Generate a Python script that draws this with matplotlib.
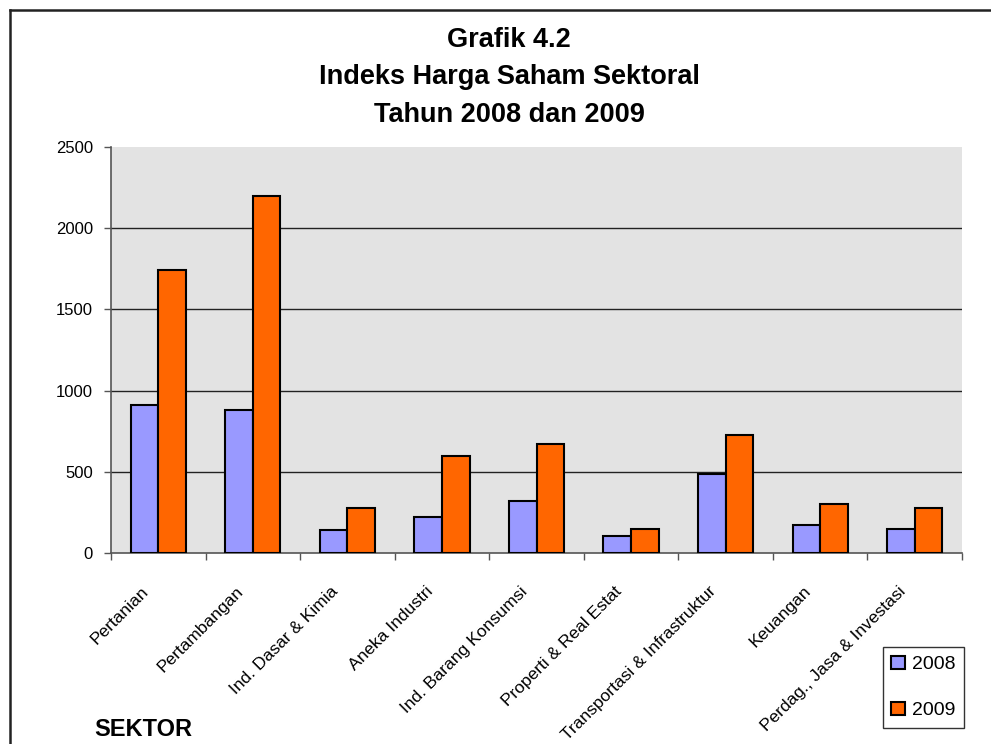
import matplotlib
matplotlib.use("Agg")
import matplotlib.pyplot as plt
import matplotlib.transforms as mtransforms
import numpy as np
from matplotlib.lines import Line2D

categories = ["Pertanian", "Pertambangan", "Ind. Dasar & Kimia", "Aneka Industri",
              "Ind. Barang Konsumsi", "Properti & Real Estat", "Transportasi & Infrastruktur",
              "Keuangan", "Perdag., Jasa & Investasi"]
values_2008 = [913, 878, 139, 222, 322, 102, 484, 172, 148]
values_2009 = [1745, 2200, 277, 599, 669, 148, 728, 299, 275]
series_labels = ["2008", "2009"]
yticks = [0, 500, 1000, 1500, 2000, 2500]
title_lines = ["Grafik 4.2", "Indeks Harga Saham Sektoral", "Tahun 2008 dan 2009"]

plt.rcParams['font.family'] = ['Liberation Sans', 'DejaVu Sans']

W, H = 991, 744
fig = plt.figure(figsize=(W / 100, H / 100), dpi=100)
fig.patch.set_facecolor('white')

ax = fig.add_axes([111 / W, 1 - 553 / H, 851 / W, 406 / H])
ax.set_facecolor('#e3e3e3')

n = len(categories)
centers = np.arange(n) + 0.5
bw = 0.292
ax.bar(centers - bw / 2, values_2008, width=bw, color='#9999FF', edgecolor='black',
       linewidth=1.5, label=series_labels[0], zorder=3)
ax.bar(centers + bw / 2, values_2009, width=bw, color='#FF6600', edgecolor='black',
       linewidth=1.5, label=series_labels[1], zorder=3)

ax.set_xlim(0, n)
ax.set_ylim(0, 2500)
ax.set_yticks(yticks)
ax.set_yticklabels([str(v) for v in yticks], fontsize=12)
for v in yticks[1:-1]:
    ax.axhline(v, color='#222222', linewidth=1.0, zorder=1)

ax.set_xticks(np.arange(n + 1))
ax.set_xticklabels([''] * (n + 1))
ax.set_xticks(centers, minor=True)
ax.set_xticklabels(categories, minor=True, rotation=45, ha='right',
                   rotation_mode='anchor', fontsize=12.5)
ax.tick_params(axis='x', which='minor', length=0, pad=22)
ax.tick_params(axis='x', which='major', length=5, width=1, color='#555555', direction='out')
ax.tick_params(axis='y', length=5, width=1, color='#555555', direction='out', pad=8)
shift = mtransforms.ScaledTranslation(-17 / 100, 0, fig.dpi_scale_trans)
for lbl in ax.get_xticklabels(minor=True):
    lbl.set_transform(lbl.get_transform() + shift)

for s in ['top', 'right']:
    ax.spines[s].set_visible(False)
for s in ['left', 'bottom']:
    ax.spines[s].set_color('#555555')
    ax.spines[s].set_linewidth(1.2)

# Title
ys = [47, 84, 122]
for t, y in zip(title_lines, ys):
    fig.text(509 / W, 1 - y / H, t, ha='center', va='baseline', fontsize=19.5,
             fontweight='bold')

# Axis title
fig.text(94 / W, 1 - 736 / H, "SEKTOR", ha='left', va='baseline', fontsize=17,
         fontweight='bold')

# Legend
leg = fig.legend(loc='upper right', bbox_to_anchor=(964 / W, 1 - 647 / H),
                 bbox_transform=fig.transFigure, fontsize=14, frameon=True,
                 fancybox=False, edgecolor='black', handlelength=0.7, handleheight=0.7,
                 handletextpad=0.35, labelspacing=1.45, borderpad=0.45, borderaxespad=0)
leg.get_frame().set_linewidth(1.0)

# Chart area border (left and top)
fig.add_artist(Line2D([10 / W, 10 / W], [0, 1 - 10 / H], transform=fig.transFigure,
                      color='#222222', linewidth=1.8))
fig.add_artist(Line2D([10 / W, 1], [1 - 10 / H, 1 - 10 / H], transform=fig.transFigure,
                      color='#222222', linewidth=1.8))

fig.savefig('out.png', dpi=100)
